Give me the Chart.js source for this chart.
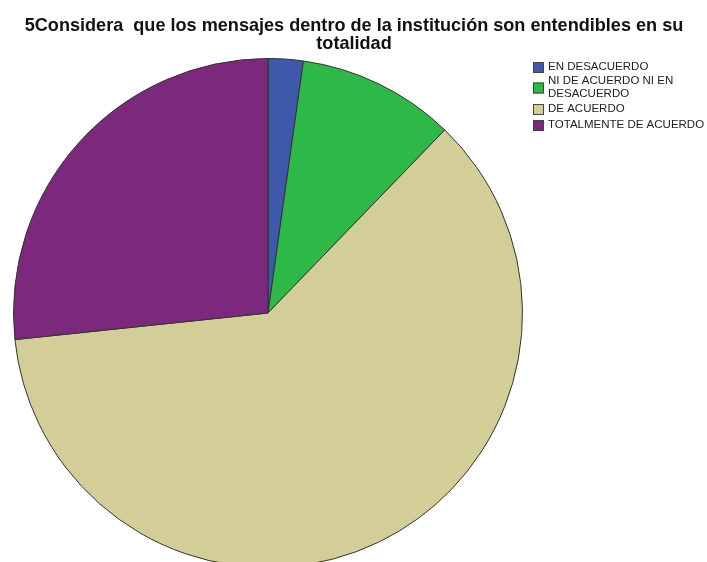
<!DOCTYPE html>
<html>
<head>
<meta charset="utf-8">
<script src="https://cdn.jsdelivr.net/npm/chart.js@4"></script>
<style>
  html, body { margin: 0; padding: 0; background: #fff; overflow: hidden; }
  #wrap { width: 707px; height: 600px; }
</style>
</head>
<body>
<div id="wrap"><canvas id="myChart" width="707" height="600"></canvas></div>
<script>
// Datos de la pregunta 5
const titulo = ['5Considera  que los mensajes dentro de la institución son entendibles en su', 'totalidad'];
const categorias = ['EN DESACUERDO', 'NI DE ACUERDO NI EN DESACUERDO', 'DE ACUERDO', 'TOTALMENTE DE ACUERDO'];
const leyendaLineas = [['EN DESACUERDO'], ['NI DE ACUERDO NI EN', 'DESACUERDO'], ['DE ACUERDO'], ['TOTALMENTE DE ACUERDO']];
const frecuencias = [2, 9, 55, 24];
const colores = ['#3e58ac', '#2eb848', '#d3ce97', '#7c287d'];

// Titulo y leyenda dibujados a mano, como en SPSS
const textoPlugin = {
    id: 'textoPlugin',
    afterDraw(chart) {
        const c = chart.ctx;
        c.save();
        c.fillStyle = '#111';
        // ajustar el tamaño del titulo al ancho de la imagen original
        let size = 16;
        c.font = 'bold ' + size + 'px "Liberation Sans", Arial, sans-serif';
        size = size * 660 / c.measureText(titulo[0]).width;
        c.font = 'bold ' + size.toFixed(1) + 'px "Liberation Sans", Arial, sans-serif';
        c.textAlign = 'center';
        c.textBaseline = 'middle';
        c.fillText(titulo[0], 354, 26);
        c.fillText(titulo[1], 354, 44);

        c.font = '11.5px "Liberation Sans", Arial, sans-serif';
        c.textAlign = 'left';
        const filas = [67, 81, 109, 125];
        leyendaLineas.forEach(function(lineas, i) {
            const y = filas[i];
            const yc = y + (lineas.length - 1) * 6.5;
            c.fillStyle = colores[i];
            c.fillRect(533, yc - 5, 11, 11);
            c.strokeStyle = '#444';
            c.lineWidth = 1;
            c.strokeRect(533.5, yc - 4.5, 10, 10);
            c.fillStyle = '#222';
            lineas.forEach(function(t, j) {
                c.fillText(t, 548, y + j * 13);
            });
        });
        c.restore();
    }
};

const ctx = document.getElementById('myChart').getContext('2d');
const grafico = new Chart(ctx, {
    type: 'pie',
    data: {
        labels: categorias,
        datasets: [{
            data: frecuencias,
            backgroundColor: colores,
            borderColor: '#333',
            borderWidth: 1
        }]
    },
    options: {
        responsive: false,
        animation: false,
        layout: { padding: { top: 58, left: 13, right: 184, bottom: 32 } },
        plugins: {
            legend: { display: false },
            title: { display: false },
            tooltip: { enabled: false }
        }
    },
    plugins: [textoPlugin]
});
</script>
</body>
</html>
